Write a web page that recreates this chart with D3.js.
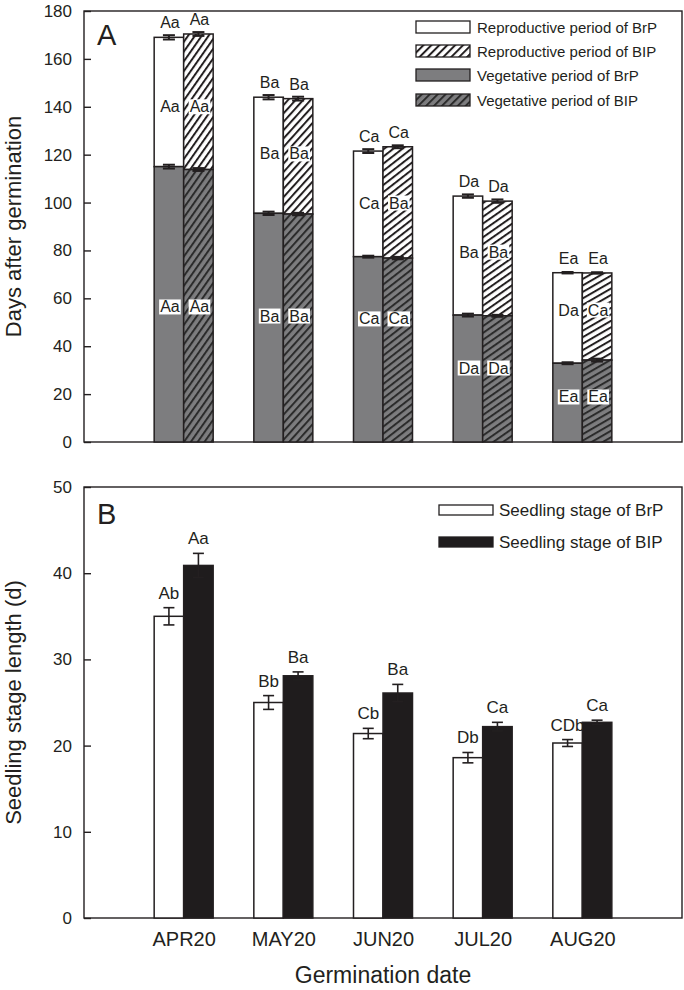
<!DOCTYPE html>
<html>
<head>
<meta charset="utf-8">
<script src="https://cdn.jsdelivr.net/npm/d3@7"></script>
<style>
  html, body { margin: 0; padding: 0; background: #fff; }
  svg { display: block; font-family: "Liberation Sans", Arial, Helvetica, sans-serif; }
</style>
</head>
<body>
<svg id="chart" width="684" height="990"></svg>
<script>
// ---------------- DATA ----------------
const months = ["APR20", "MAY20", "JUN20", "JUL20", "AUG20"];

// Panel A: days after germination
const vegBrP = [115.0, 95.5, 77.4, 53.0, 32.9];
const vegBIP = [113.8, 95.2, 76.8, 52.7, 34.2];
const reproBrP = [54.0, 48.5, 44.1, 49.7, 37.8];
const reproBIP = [56.6, 48.2, 46.5, 47.9, 36.4];
const vegErrBrP = [0.8, 0.7, 0.4, 0.6, 0.4];
const vegErrBIP = [0.6, 0.5, 0.5, 0.4, 0.6];
const totErrBrP = [0.9, 0.9, 0.8, 0.7, 0.3];
const totErrBIP = [0.8, 0.8, 0.6, 0.7, 0.3];
const topLabBrP = ["Aa", "Ba", "Ca", "Da", "Ea"];
const topLabBIP = ["Aa", "Ba", "Ca", "Da", "Ea"];
const reproLabBrP = ["Aa", "Ba", "Ca", "Ba", "Da"];
const reproLabBIP = ["Aa", "Ba", "Ba", "Ba", "Ca"];
const vegLabBrP = ["Aa", "Ba", "Ca", "Da", "Ea"];
const vegLabBIP = ["Aa", "Ba", "Ca", "Da", "Ea"];
const yTicksA = [0, 20, 40, 60, 80, 100, 120, 140, 160, 180];
const legendA = ["Reproductive period of BrP", "Reproductive period of BIP",
                 "Vegetative period of BrP", "Vegetative period of BIP"];

// Panel B: seedling stage length
const seedBrP = [35.0, 25.0, 21.4, 18.6, 20.3];
const seedBIP = [40.9, 28.1, 26.1, 22.2, 22.7];
const seedErrBrP = [1.0, 0.8, 0.6, 0.6, 0.4];
const seedErrBIP = [1.4, 0.45, 1.0, 0.5, 0.25];
const seedLabBrP = ["Ab", "Bb", "Cb", "Db", "CDb"];
const seedLabBIP = ["Aa", "Ba", "Ba", "Ca", "Ca"];
const yTicksB = [0, 10, 20, 30, 40, 50];
const legendB = ["Seedling stage of BrP", "Seedling stage of BIP"];

// ---------------- STYLE / LAYOUT ----------------
const INK = "#231f20";
const GRAY = "#7d7d7f";
const hatchRot = [35, 42, 52, 55, 60];             // pattern rotation per date (visual)
const reproLabAt = [140, 120.3, 99.8, 79.3, 55.1]; // where in-bar labels sit (axis units)
const vegLabAt = [56.4, 52.6, 51.4, 30.9, 18.8];
const L = 84, R = 682;
const A = { top: 11, bottom: 442 };
const B = { top: 487, bottom: 918 };
const barW = 29.5;

const svg = d3.select("#chart");
const defs = svg.append("defs");

function hatch(id, bg, fg, rot) {
  const p = defs.append("pattern").attr("id", id)
    .attr("patternUnits", "userSpaceOnUse")
    .attr("width", 5.6).attr("height", 10)
    .attr("patternTransform", `rotate(${rot})`);
  p.append("rect").attr("width", 5.6).attr("height", 10).attr("fill", bg);
  p.append("line").attr("x1", 1).attr("x2", 1).attr("y1", 0).attr("y2", 10)
    .attr("stroke", fg).attr("stroke-width", 2);
}
months.forEach((m, i) => {
  hatch("hr" + i, "#fff", INK, hatchRot[i]);
  hatch("hv" + i, GRAY, "#2b2b2b", hatchRot[i]);
});
hatch("hrL", "#fff", INK, 45);
hatch("hvL", GRAY, "#2b2b2b", 45);

const x = d3.scalePoint().domain(months).range([L, R]).padding(1);
const yA = d3.scaleLinear().domain([0, 180]).range([A.bottom, A.top]);
const yB = d3.scaleLinear().domain([0, 50]).range([B.bottom, B.top]);

function frame(p, y, ticks) {
  const g = svg.append("g");
  g.append("rect").attr("x", L).attr("y", p.top).attr("width", R - L)
    .attr("height", p.bottom - p.top).attr("fill", "none")
    .attr("stroke", INK).attr("stroke-width", 1.4);
  const ax = g.append("g").attr("transform", `translate(${L},0)`)
    .call(d3.axisLeft(y).tickValues(ticks).tickSizeInner(-7).tickSizeOuter(0).tickPadding(12));
  ax.select(".domain").remove();
  ax.selectAll(".tick line").attr("stroke", INK).attr("stroke-width", 1.4);
  ax.selectAll(".tick text").attr("font-size", 17).attr("fill", INK)
    .attr("font-family", "'Liberation Sans', Arial, sans-serif");
}

function errBar(g, cx, yTop, yBot, cap, sw) {
  g.append("line").attr("x1", cx).attr("x2", cx).attr("y1", yTop).attr("y2", yBot)
    .attr("stroke", INK).attr("stroke-width", sw);
  [yTop, yBot].forEach(yy => g.append("line").attr("x1", cx - cap / 2).attr("x2", cx + cap / 2)
    .attr("y1", yy).attr("y2", yy).attr("stroke", INK).attr("stroke-width", sw));
}

function boxLabel(g, cx, cy, txt, size) {
  const t = g.append("text").attr("x", cx).attr("y", cy).attr("text-anchor", "middle")
    .attr("dominant-baseline", "central").attr("font-size", size).attr("fill", INK).text(txt);
  const bb = t.node().getBBox();
  g.insert("rect", () => t.node()).attr("x", bb.x - 1).attr("y", bb.y + 1)
    .attr("width", bb.width + 2).attr("height", bb.height - 2).attr("fill", "#fff");
}

// ---------------- PANEL A ----------------
frame(A, yA, yTicksA);
const gA = svg.append("g");
months.forEach((m, i) => {
  const c = x(m);
  const series = [
    { x0: c - barW, veg: vegBrP[i], rep: reproBrP[i], vf: GRAY, rf: "#fff", ve: vegErrBrP[i], te: totErrBrP[i],
      tl: topLabBrP[i], rl: reproLabBrP[i], vl: vegLabBrP[i] },
    { x0: c, veg: vegBIP[i], rep: reproBIP[i], vf: `url(#hv${i})`, rf: `url(#hr${i})`, ve: vegErrBIP[i], te: totErrBIP[i],
      tl: topLabBIP[i], rl: reproLabBIP[i], vl: vegLabBIP[i] }
  ];
  series.forEach(s => {
    const tot = s.veg + s.rep;
    gA.append("rect").attr("x", s.x0).attr("width", barW)
      .attr("y", yA(tot)).attr("height", yA(s.veg) - yA(tot))
      .attr("fill", s.rf).attr("stroke", INK).attr("stroke-width", 1.5);
    gA.append("rect").attr("x", s.x0).attr("width", barW)
      .attr("y", yA(s.veg)).attr("height", yA(0) - yA(s.veg))
      .attr("fill", s.vf).attr("stroke", INK).attr("stroke-width", 1.5);
    const cx = s.x0 + barW / 2;
    errBar(gA, cx, yA(s.veg + s.ve), yA(s.veg - s.ve), 12, 2);
    errBar(gA, cx, yA(tot + s.te), yA(tot - s.te), 12, 2);
    gA.append("text").attr("x", cx + 1).attr("y", yA(tot) - 9).attr("text-anchor", "middle")
      .attr("font-size", 16).attr("fill", INK).text(s.tl);
    boxLabel(gA, cx + 1, yA(reproLabAt[i]), s.rl, 16);
    boxLabel(gA, cx + 1, yA(vegLabAt[i]), s.vl, 16);
  });
});
svg.append("text").attr("x", 97).attr("y", 45).attr("font-size", 29).attr("fill", INK).text("A");

// legend A
const legFillA = ["#fff", "url(#hrL)", GRAY, "url(#hvL)"];
const legYA = [27, 51, 75, 100];
legendA.forEach((t, i) => {
  svg.append("rect").attr("x", 416).attr("y", legYA[i] - 6).attr("width", 54).attr("height", 12)
    .attr("fill", legFillA[i]).attr("stroke", INK).attr("stroke-width", 1.3);
  svg.append("text").attr("x", 477).attr("y", legYA[i] + 5.5).attr("font-size", 15)
    .attr("fill", INK).text(t);
});
svg.append("text").attr("transform", `translate(21,${(A.top + A.bottom) / 2}) rotate(-90)`)
  .attr("text-anchor", "middle").attr("font-size", 22).attr("fill", INK).text("Days after germination");

// ---------------- PANEL B ----------------
frame(B, yB, yTicksB);
const gB = svg.append("g");
months.forEach((m, i) => {
  const c = x(m);
  [
    { x0: c - barW, v: seedBrP[i], e: seedErrBrP[i], f: "#fff", l: seedLabBrP[i] },
    { x0: c, v: seedBIP[i], e: seedErrBIP[i], f: "#1f1c1d", l: seedLabBIP[i] }
  ].forEach(s => {
    gB.append("rect").attr("x", s.x0).attr("width", barW)
      .attr("y", yB(s.v)).attr("height", yB(0) - yB(s.v))
      .attr("fill", s.f).attr("stroke", INK).attr("stroke-width", 1.5);
    const cx = s.x0 + barW / 2;
    errBar(gB, cx, yB(s.v + s.e), yB(s.v - s.e), 11, 1.6);
    gB.append("text").attr("x", cx).attr("y", yB(s.v + s.e) - 9).attr("text-anchor", "middle")
      .attr("font-size", 17).attr("fill", INK).text(s.l);
  });
});
svg.append("text").attr("x", 97).attr("y", 524).attr("font-size", 29).attr("fill", INK).text("B");

const legFillB = ["#fff", "#1f1c1d"];
const legYB = [510, 542];
legendB.forEach((t, i) => {
  svg.append("rect").attr("x", 439).attr("y", legYB[i] - 5).attr("width", 54).attr("height", 10)
    .attr("fill", legFillB[i]).attr("stroke", INK).attr("stroke-width", 1.3);
  svg.append("text").attr("x", 499).attr("y", legYB[i] + 6).attr("font-size", 17)
    .attr("fill", INK).text(t);
});
svg.append("text").attr("transform", `translate(21,${(B.top + B.bottom) / 2}) rotate(-90)`)
  .attr("text-anchor", "middle").attr("font-size", 22).attr("fill", INK).text("Seedling stage length (d)");

// x axis labels
const xAx = svg.append("g").attr("transform", `translate(0,${B.bottom})`)
  .call(d3.axisBottom(x).tickSize(0).tickPadding(14));
xAx.select(".domain").remove();
xAx.selectAll(".tick text").attr("font-size", 20).attr("fill", INK)
  .attr("font-family", "'Liberation Sans', Arial, sans-serif");
svg.append("text").attr("x", (L + R) / 2).attr("y", 983).attr("text-anchor", "middle")
  .attr("font-size", 23).attr("fill", INK).text("Germination date");
</script>
</body>
</html>
